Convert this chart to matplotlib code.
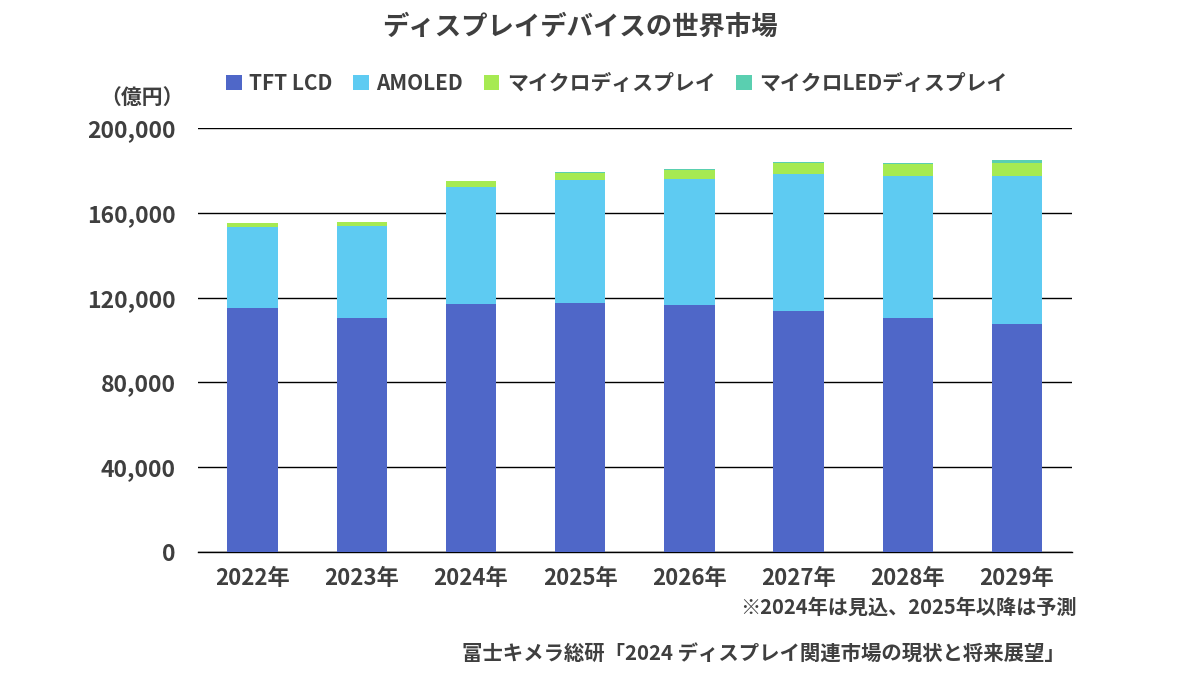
import matplotlib
matplotlib.use("Agg")
import matplotlib.pyplot as plt
from matplotlib.patches import Patch
from matplotlib.ticker import FuncFormatter

plt.rcParams['font.family'] = ['Noto Sans CJK JP', 'DejaVu Sans']

years = ["2022年", "2023年", "2024年", "2025年", "2026年", "2027年", "2028年", "2029年"]
series_names = ["TFT LCD", "AMOLED", "マイクロディスプレイ", "マイクロLEDディスプレイ"]
tft_lcd = [115100, 110400, 117000, 117500, 116500, 113700, 110400, 107500]
amoled = [38200, 43400, 55200, 58000, 59400, 64600, 67000, 69900]
micro_display = [1900, 1900, 2800, 3300, 4300, 5200, 5600, 6100]
micro_led = [0, 0, 0, 500, 500, 500, 500, 1400]
colors = ["#4F67C8", "#5ECBF2", "#A6EA52", "#5ACFB0"]
yticks = [0, 40000, 80000, 120000, 160000, 200000]

txt = "#3F3F3F"
fig = plt.figure(figsize=(12, 6.75), dpi=100)
ax = fig.add_axes([0.165, 0.1822, 0.728, 0.6282])

x = list(range(len(years)))
bottom = [0] * len(years)
for vals, c in zip([tft_lcd, amoled, micro_display, micro_led], colors):
    ax.bar(x, vals, width=0.46, bottom=bottom, color=c, zorder=3, linewidth=0)
    bottom = [b + v for b, v in zip(bottom, vals)]

ax.set_xlim(-0.5, len(years) - 0.5)
ax.set_ylim(0, 200000)
ax.set_yticks(yticks)
ax.yaxis.set_major_formatter(FuncFormatter(lambda v, p: f"{int(v):,}"))
ax.grid(axis='y', color='black', linewidth=1.0, zorder=0)
ax.set_xticks(x)
ax.set_xticklabels(years)
for s in ['left', 'right', 'top']:
    ax.spines[s].set_visible(False)
ax.spines['bottom'].set_color('black')
ax.spines['bottom'].set_linewidth(1.0)
ax.tick_params(axis='both', length=0, labelcolor=txt)
ax.tick_params(axis='y', pad=16, labelsize=16.5)
ax.tick_params(axis='x', pad=11, labelsize=16)
for lab in ax.get_xticklabels() + ax.get_yticklabels():
    lab.set_fontweight('bold')

fig.text(0.483, 0.96, "ディスプレイデバイスの世界市場", ha='center', va='center',
         fontsize=19, fontweight='bold', color=txt)
fig.text(0.118, 0.856, "（億円）", ha='center', va='center', fontsize=15,
         fontweight='bold', color=txt)

handles = [Patch(facecolor=c, edgecolor='none') for c in colors]
leg = fig.legend(handles, series_names, loc='center', bbox_to_anchor=(0.514, 0.877),
                 ncol=4, frameon=False, handlelength=0.75, handleheight=0.75,
                 handletextpad=0.35, columnspacing=1.0,
                 prop={'size': 15, 'weight': 'bold'})
for t in leg.get_texts():
    t.set_color(txt)

fig.text(0.897, 0.1, "※2024年は見込、2025年以降は予測", ha='right', va='center',
         fontsize=14.5, fontweight='bold', color=txt)
fig.text(0.887, 0.032, "富士キメラ総研「2024 ディスプレイ関連市場の現状と将来展望」",
         ha='right', va='center', fontsize=14.7, fontweight='bold', color=txt)

fig.savefig("out.png", dpi=100)
